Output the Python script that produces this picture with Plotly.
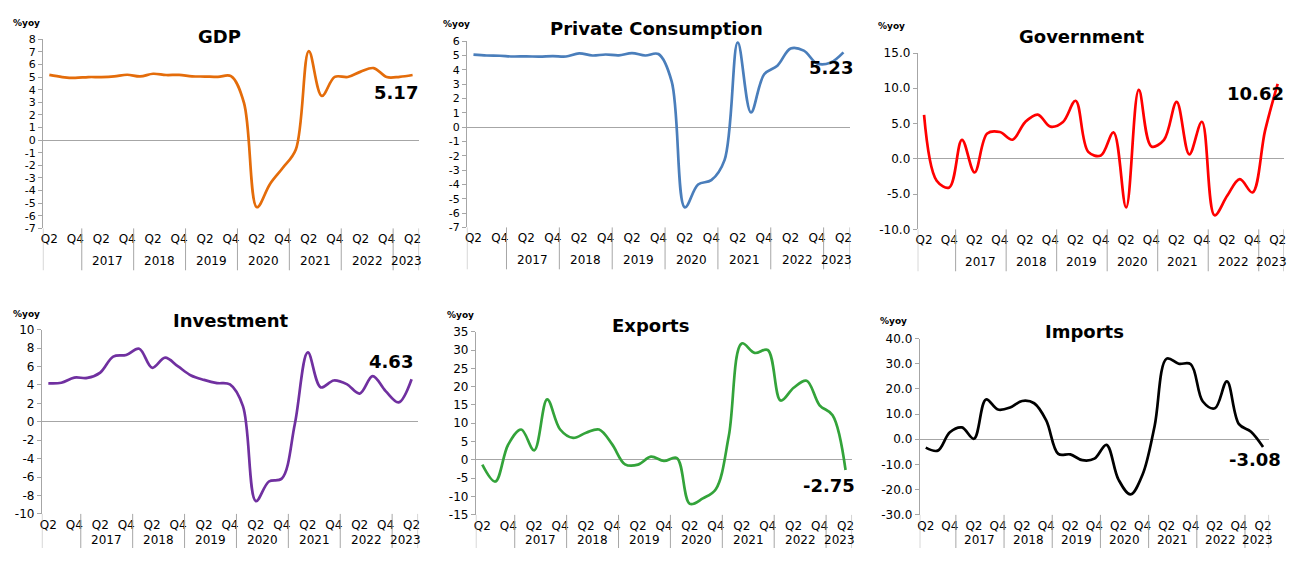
import plotly.graph_objects as go

# ---------------- data ----------------
periods = [f"{y}Q{q}" for y in range(2016, 2024) for q in range(1, 5)][1:-2]  # 2016Q2 .. 2023Q2
quarters = [p[-2:] for p in periods]
years = [p[:4] for p in periods]

gdp = [5.18, 5.01, 4.94, 5.01, 5.01, 5.06, 5.19, 5.06, 5.27, 5.17, 5.18, 5.07, 5.05, 5.02, 5.08,
       2.97, -5.32, -3.49, -2.19, -0.74, 7.07, 3.51, 5.02, 5.01, 5.44, 5.72, 5.01, 5.03, 5.17]
private_consumption = [5.07, 5.01, 4.99, 4.94, 4.95, 4.93, 4.97, 4.94, 5.16, 5.01, 5.08, 5.02, 5.18, 5.01, 5.11,
                       3.2, -5.6, -4.0, -3.7, -2.3, 5.93, 1.03, 3.7, 4.3, 5.5, 5.35, 4.45, 4.5, 5.23]
government = [6.23, -3.1, -4.05, 2.69, -1.93, 3.6, 3.8, 2.71, 5.2, 6.27, 4.56, 5.22, 8.23, 0.98, 0.48,
              3.74, -6.9, 9.76, 1.76, 2.7, 8.06, 0.62, 5.25, -8.0, -5.24, -2.88, -4.77, 3.99, 10.62]
investment = [4.18, 4.24, 4.8, 4.77, 5.35, 7.08, 7.26, 7.94, 5.87, 6.96, 6.01, 5.03, 4.55, 4.21, 4.06,
              1.7, -8.61, -6.48, -6.15, -0.23, 7.54, 3.74, 4.49, 4.09, 3.07, 4.96, 3.33, 2.11, 4.63]
exports = [-1.3, -5.9, 4.2, 8.3, 2.6, 16.5, 8.3, 6.0, 7.4, 8.3, 4.3, -1.2, -1.3, 0.9, -0.3,
           0.5, -12.0, -10.5, -8.0, 6.5, 31.8, 29.2, 30.0, 16.2, 19.7, 21.6, 14.9, 12.2, -2.75]
imports = [-3.3, -4.5, 2.8, 4.7, 0.2, 15.8, 11.8, 12.6, 15.2, 14.3, 7.5, -5.8, -6.0, -8.3, -7.7,
           -2.2, -16.0, -21.9, -14.0, 5.3, 32.0, 30.0, 29.8, 15.0, 12.3, 23.0, 6.0, 3.0, -3.08]

year_labels = ["2017", "2018", "2019", "2020", "2021", "2022", "2023"]

W, H = 1297, 563          # window size
OX, OY = 8, 8             # page body margin
CW, CH = W - 2 * OX, H - 2 * OY   # figure size that fits in the window
FONT = "DejaVu Sans"
GRAY = "#A6A6A6"
BOTTOM = OY + CH          # last visible pixel row of the figure


def fx(x):
    return (x - OX) / CW


def fy(y):
    return 1 - (y - OY) / CH


panels = [
    dict(title="GDP", y=gdp, color="#E46C0A", box=(40, 418, 33, 227), yr=(-7, 8), dt=1, fmt="{:.0f}",
         tpos=(217, 30), upos=(8, 16), lpos=(395, 88), tfs=11),
    dict(title="Private Consumption", y=private_consumption, color="#4A7EBB", box=(466, 851, 35, 226),
         yr=(-7, 6), dt=1, fmt="{:.0f}", tpos=(657, 22), upos=(440, 17), lpos=(832, 62), tfs=11),
    dict(title="Government", y=government, color="#FF0000", box=(919, 1287, 47, 228), yr=(-10, 15), dt=5,
         fmt="{:.1f}", tpos=(1084, 30), upos=(877, 19), lpos=(1258, 89), tfs=12),
    dict(title="Investment", y=investment, color="#7030A0", box=(39, 417, 331, 520), yr=(-10, 10), dt=2,
         fmt="{:.0f}", tpos=(229, 322), upos=(8, 315), lpos=(390, 364), tfs=12),
    dict(title="Exports", y=exports, color="#33A33A", box=(475, 853, 333, 521), yr=(-15, 35), dt=5,
         fmt="{:.0f}", tpos=(651, 327), upos=(444, 316), lpos=(830, 491), tfs=12),
    dict(title="Imports", y=imports, color="#000000", box=(921, 1272, 340, 521), yr=(-30, 40), dt=10,
         fmt="{:.1f}", tpos=(1087, 333), upos=(879, 322), lpos=(1258, 464), tfs=12),
]

x_idx = list(range(len(periods)))
tickvals = [i for i, q in enumerate(quarters) if q in ("Q2", "Q4")]
ticktext = [quarters[i] for i in tickvals]

bounds = [-0.5]
for i in range(1, len(years)):
    if years[i] != years[i - 1]:
        bounds.append(i - 0.5)
bounds.append(len(years) - 0.5)
centres = {}
for i, yv in enumerate(years):
    centres.setdefault(yv, []).append(i)

fig = go.Figure()
layout = dict(width=CW, height=CH, margin=dict(l=0, r=0, t=0, b=0), showlegend=False,
              plot_bgcolor="white", paper_bgcolor="white", font=dict(family=FONT, color="#000"))
annotations = []
shapes = []

for k, p in enumerate(panels, start=1):
    xa = "x" if k == 1 else f"x{k}"
    ya = "y" if k == 1 else f"y{k}"
    l, r, t, b = p["box"]
    ph = b - t
    year_y = min(b + 33, BOTTOM - 8)      # keep year labels inside the figure
    sep_y = min(b + 43, BOTTOM)
    fig.add_trace(go.Scatter(x=x_idx, y=p["y"], mode="lines", xaxis=xa, yaxis=ya,
                             line=dict(color=p["color"], width=2.7, shape="spline", smoothing=1.0),
                             hoverinfo="skip"))
    lo, hi = p["yr"]
    yt = list(range(lo, hi + 1, p["dt"]))
    layout["xaxis" if k == 1 else f"xaxis{k}"] = dict(
        domain=[fx(l), fx(r)], anchor=ya, range=[-0.5, len(periods) - 0.5],
        tickvals=tickvals, ticktext=ticktext, ticks="", showline=False, showgrid=False,
        zeroline=False, tickfont=dict(family=FONT, size=12, color="#000"), ticklabelstandoff=2)
    layout["yaxis" if k == 1 else f"yaxis{k}"] = dict(
        domain=[fy(b), fy(t)], anchor=xa, range=[lo, hi], tickvals=yt,
        ticktext=[p["fmt"].format(v) for v in yt], ticks="outside", ticklen=4, tickcolor=GRAY,
        showline=True, linecolor=GRAY, linewidth=1, showgrid=False, zeroline=True,
        zerolinecolor=GRAY, zerolinewidth=1, tickfont=dict(family=FONT, size=p["tfs"], color="#000"))
    for bx in bounds:
        shapes.append(dict(type="line", xref=xa, yref=f"{ya} domain", x0=bx, x1=bx,
                           y0=0, y1=-(sep_y - b) / ph, line=dict(color=GRAY, width=1)))
    for yv in year_labels:
        idx = centres[yv]
        annotations.append(dict(text=yv, xref=xa, yref=f"{ya} domain",
                                x=(idx[0] + idx[-1]) / 2, y=-(year_y - b) / ph, showarrow=False,
                                font=dict(family=FONT, size=12, color="#000"),
                                xanchor="center", yanchor="middle"))
    annotations.append(dict(text=f"<b>{p['title']}</b>", xref="paper", yref="paper",
                            x=fx(p["tpos"][0]), y=fy(p["tpos"][1]), showarrow=False,
                            xanchor="center", yanchor="middle",
                            font=dict(family=FONT, size=18, color="#000")))
    annotations.append(dict(text="<b>%yoy</b>", xref="paper", yref="paper",
                            x=fx(p["upos"][0]), y=fy(p["upos"][1]), showarrow=False,
                            xanchor="left", yanchor="middle",
                            font=dict(family=FONT, size=9, color="#000")))
    annotations.append(dict(text=f"<b>{p['y'][-1]:.2f}</b>", xref="paper", yref="paper",
                            x=fx(p["lpos"][0]), y=fy(p["lpos"][1]), showarrow=False,
                            xanchor="center", yanchor="middle",
                            font=dict(family=FONT, size=18, color="#000")))

layout["annotations"] = annotations
layout["shapes"] = shapes
fig.update_layout(**layout)
fig.write_html("out.html", config={"displayModeBar": False})
